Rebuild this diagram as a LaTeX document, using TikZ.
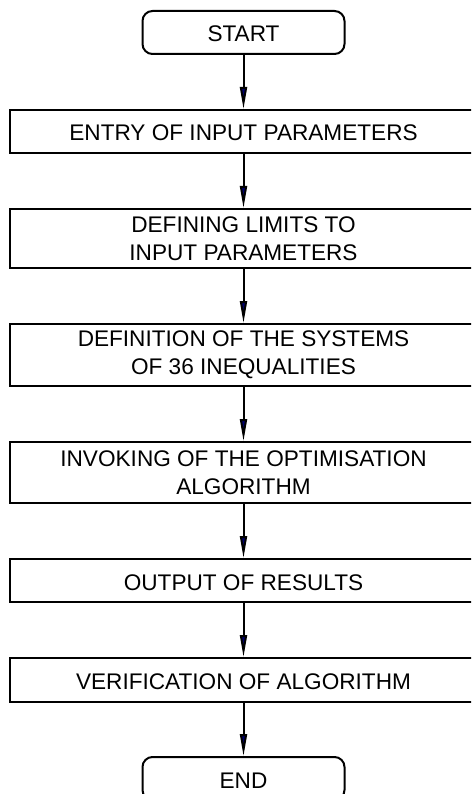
\documentclass[tikz,border=0pt]{standalone}
\usepackage{fontspec}
\setmainfont{Liberation Sans}
\usetikzlibrary{arrows.meta}
\definecolor{tipblue}{RGB}{0,0,110}
\begin{document}
\begin{tikzpicture}[x=1pt,y=-1pt,
  box/.style={draw, line width=2pt, minimum width=467pt, inner sep=0pt, align=center,
    font=\fontsize{22.6pt}{27.7pt}\selectfont},
  one/.style={text height=19pt, text depth=0pt},
  term/.style={box, one, rounded corners=10pt, minimum width=202pt, minimum height=43pt},
  arr/.style={line width=2pt, -{Triangle[length=22pt,width=7pt,fill=tipblue]}}]
\useasboundingbox (0,0) rectangle (471,794);
\clip (0,0) rectangle (471,794);
\node[term] (start) at (243.5,32.5) {START};
\node[box, one, minimum height=43pt] (b1) at (243.5,131.5) {ENTRY OF INPUT PARAMETERS};
\node[box, minimum height=59pt] (b2) at (243.5,238.5) {DEFINING LIMITS TO\\INPUT PARAMETERS};
\node[box, minimum height=62pt] (b3) at (243.5,355) {DEFINITION OF THE SYSTEMS\\OF 36 INEQUALITIES};
\node[box, minimum height=61pt] (b4) at (243.5,472.5) {INVOKING OF THE OPTIMISATION\\ALGORITHM};
\node[box, one, minimum height=43pt] (b5) at (243.5,580.5) {OUTPUT OF RESULTS};
\node[box, one, minimum height=44pt] (b6) at (243.5,680) {VERIFICATION OF ALGORITHM};
\node[term] (end) at (243.5,778.5) {END};
\draw[arr] (start) -- (b1);
\draw[arr] (b1) -- (b2);
\draw[arr] (b2) -- (b3);
\draw[arr] (b3) -- (b4);
\draw[arr] (b4) -- (b5);
\draw[arr] (b5) -- (b6);
\draw[arr] (b6) -- (end);
\end{tikzpicture}
\end{document}
